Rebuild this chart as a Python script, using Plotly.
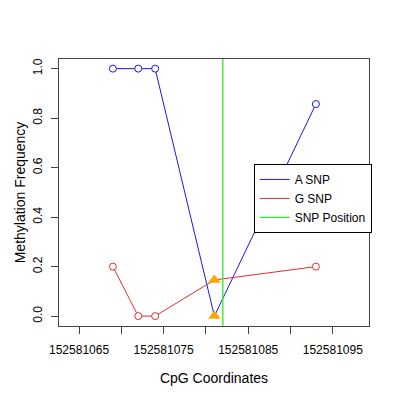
import plotly.graph_objects as go

# CpG positions and methylation frequency per allele
cpg = [152581069, 152581072, 152581074, 152581081, 152581093]
a_snp = [1.0, 1.0, 1.0, 0.0, 0.857]
g_snp = [0.2, 0.0, 0.0, 0.146, 0.2]
snp_idx = 3
snp_pos = 152581082

x_ticks = [152581065, 152581070, 152581075, 152581080, 152581085, 152581090, 152581095]
x_labels = ['152581065', '', '152581075', '', '152581085', '', '152581095']
y_ticks = [0.0, 0.2, 0.4, 0.6, 0.8, 1.0]
x_range = [152581062.63, 152581099.28]
y_range = [-0.04, 1.039]

blue = '#1a1ae0'
red = '#e03030'
green = '#30e830'
orange = '#ffa500'

fig = go.Figure()

for name, vals, col in [('A SNP', a_snp, blue), ('G SNP', g_snp, red)]:
    fig.add_trace(go.Scatter(x=cpg, y=vals, mode='lines', name=name,
                             line=dict(color=col, width=1)))
    xs = [c for i, c in enumerate(cpg) if i != snp_idx]
    ys = [v for i, v in enumerate(vals) if i != snp_idx]
    fig.add_trace(go.Scatter(x=xs, y=ys, mode='markers', showlegend=False,
                             marker=dict(symbol='circle', size=7, color='white',
                                         line=dict(color=col, width=1))))

fig.add_trace(go.Scatter(x=[snp_pos, snp_pos], y=y_range, mode='lines',
                         name='SNP Position', line=dict(color=green, width=1.3)))

fig.add_trace(go.Scatter(x=[cpg[snp_idx], cpg[snp_idx]], y=[a_snp[snp_idx], g_snp[snp_idx]],
                         mode='markers', showlegend=False,
                         marker=dict(symbol='triangle-up', size=11, color=orange)))

# page body has an 8px margin, so the figure is a bit smaller than the window
fig.update_layout(
    width=392, height=392,
    margin=dict(l=51, r=31, t=51, b=74),
    plot_bgcolor='white', paper_bgcolor='white',
    font=dict(family='Liberation Sans, Arial, sans-serif', size=12, color='black'),
    legend=dict(x=0.628, y=0.607, xanchor='left', yanchor='top',
                bordercolor='black', borderwidth=1, bgcolor='white',
                itemwidth=30, font=dict(size=12), tracegroupgap=0),
)
fig.update_xaxes(range=x_range, tickvals=x_ticks, ticktext=x_labels,
                 ticks='outside', ticklen=7, tickcolor='#444',
                 showline=True, linecolor='#444', mirror=True, showgrid=False,
                 zeroline=False, ticklabelstandoff=6,
                 title=dict(text='CpG Coordinates', standoff=16))
fig.update_yaxes(range=y_range, tickvals=y_ticks, tickformat='.1f',
                 ticks='outside', ticklen=7, tickcolor='#444', tickangle=-90,
                 showline=True, linecolor='#444', mirror=True, showgrid=False,
                 zeroline=False, ticklabelstandoff=4,
                 title=dict(text='Methylation Frequency', standoff=2))

fig.write_html('out.html')
